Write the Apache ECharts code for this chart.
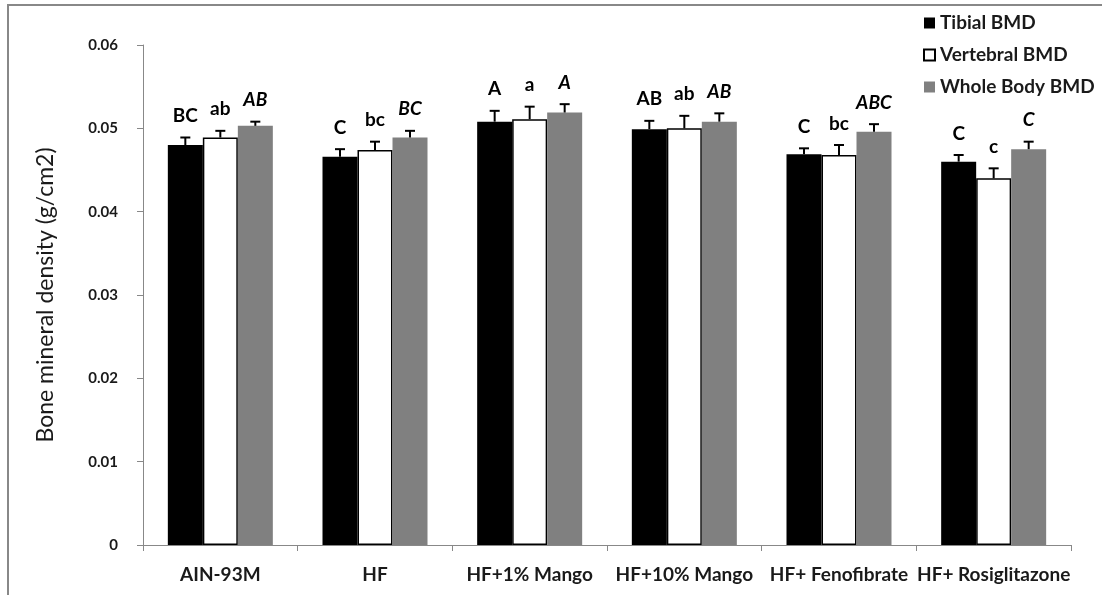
<!DOCTYPE html>
<html>
<head>
<meta charset="utf-8">
<script src="https://cdn.jsdelivr.net/npm/echarts@6/dist/echarts.min.js"></script>
<style>
html,body{margin:0;padding:0;background:#fff;}
#chart{width:1102px;height:595px;}
</style>
</head>
<body>
<div id="chart"></div>
<script>
const categories = ['AIN-93M', 'HF', 'HF+1% Mango', 'HF+10% Mango', 'HF+ Fenofibrate', 'HF+ Rosiglitazone'];
const seriesNames = ['Tibial BMD', 'Vertebral BMD', 'Whole Body BMD'];
const tibial = [0.0480, 0.0466, 0.0508, 0.0499, 0.0469, 0.0460];
const tibialErr = [0.0009, 0.0009, 0.0013, 0.0010, 0.0007, 0.0008];
const vertebral = [0.0489, 0.0474, 0.0511, 0.0500, 0.0468, 0.0440];
const vertebralErr = [0.0008, 0.0010, 0.0015, 0.0015, 0.0012, 0.0012];
const whole = [0.0503, 0.0489, 0.0519, 0.0508, 0.0496, 0.0475];
const wholeErr = [0.0005, 0.0008, 0.0010, 0.0010, 0.0009, 0.0009];
const tibialLetters = ['BC', 'C', 'A', 'AB', 'C', 'C'];
const vertebralLetters = ['ab', 'bc', 'a', 'ab', 'bc', 'c'];
const wholeLetters = ['AB', 'BC', 'A', 'AB', 'ABC', 'C'];
const yTicks = [0, 0.01, 0.02, 0.03, 0.04, 0.05, 0.06];

const FONT = 'Lato';
const BAR_W = 35;
const values = [tibial, vertebral, whole];
const errs = [tibialErr, vertebralErr, wholeErr];
const letters = [tibialLetters, vertebralLetters, wholeLetters];
const offsets = [-BAR_W, 0, BAR_W];
const italic = [false, false, true];

const barStyles = [
  {color: '#000000'},
  {color: '#ffffff', borderColor: '#000000', borderWidth: 1.5},
  {color: '#808080'}
];

const series = [];
seriesNames.forEach((name, i) => {
  series.push({
    name: name,
    type: 'bar',
    barWidth: BAR_W,
    barGap: '0%',
    itemStyle: barStyles[i],
    data: values[i],
    z: 2
  });
});
seriesNames.forEach((name, i) => {
  series.push({
    type: 'custom',
    z: 5,
    silent: true,
    encode: {x: 0, y: 1},
    data: categories.map((c, k) => [k, values[i][k], errs[i][k]]),
    renderItem: function (params, api) {
      const k = api.value(0);
      const v = api.value(1);
      const e = api.value(2);
      const base = api.coord([k, v]);
      const top = api.coord([k, v + e]);
      const x = base[0] + offsets[i];
      return {
        type: 'group',
        children: [
          {type: 'line', shape: {x1: x, y1: base[1], x2: x, y2: top[1]}, style: {stroke: '#000', lineWidth: 2}},
          {type: 'line', shape: {x1: x - 5, y1: top[1], x2: x + 5, y2: top[1]}, style: {stroke: '#000', lineWidth: 2}},
          {type: 'text', x: x, y: top[1] - 12, style: {
            text: letters[i][k], fill: '#000', font: (italic[i] ? 'italic ' : '') + 'bold 19px ' + FONT,
            align: 'center', verticalAlign: 'bottom'
          }}
        ]
      };
    }
  });
});

const chart = echarts.init(document.getElementById('chart'));
chart.setOption({
  animation: false,
  backgroundColor: '#ffffff',
  graphic: [{
    type: 'rect', shape: {x: 8, y: 5, width: 1120, height: 620},
    style: {fill: 'none', stroke: '#888888', lineWidth: 2}, z: 0
  }],
  grid: {left: 143, right: 31, top: 45, bottom: 50},
  legend: {
    data: seriesNames,
    orient: 'vertical',
    left: 918,
    top: 7,
    itemWidth: 11,
    itemHeight: 11,
    itemGap: 10,
    icon: 'rect',
    textStyle: {fontFamily: FONT, fontSize: 19, fontWeight: 'bold', color: '#1a1a1a', lineHeight: 22}
  },
  xAxis: {
    type: 'category',
    data: categories,
    axisLine: {lineStyle: {color: '#888888', width: 1}},
    axisTick: {show: true, length: 6, lineStyle: {color: '#888888'}},
    axisLabel: {interval: 0, fontFamily: FONT, fontSize: 19, fontWeight: 'bold', color: '#1a1a1a', margin: 20}
  },
  yAxis: {
    type: 'value',
    min: 0, max: 0.06, interval: 0.01,
    name: 'Bone mineral density (g/cm2)',
    nameLocation: 'middle',
    nameGap: 86,
    nameTextStyle: {fontFamily: FONT, fontSize: 23, color: '#1a1a1a'},
    splitLine: {show: false},
    axisLine: {show: true, lineStyle: {color: '#888888', width: 1}},
    axisTick: {show: true, length: 6, lineStyle: {color: '#888888'}},
    axisLabel: {
      fontFamily: FONT, fontSize: 15, fontWeight: 'bold', color: '#1a1a1a', margin: 25,
      formatter: v => { const t = yTicks.find(y => Math.abs(y - v) < 1e-9); return t === 0 ? '0' : String(t); }
    }
  },
  series: series
});
</script>
</body>
</html>
